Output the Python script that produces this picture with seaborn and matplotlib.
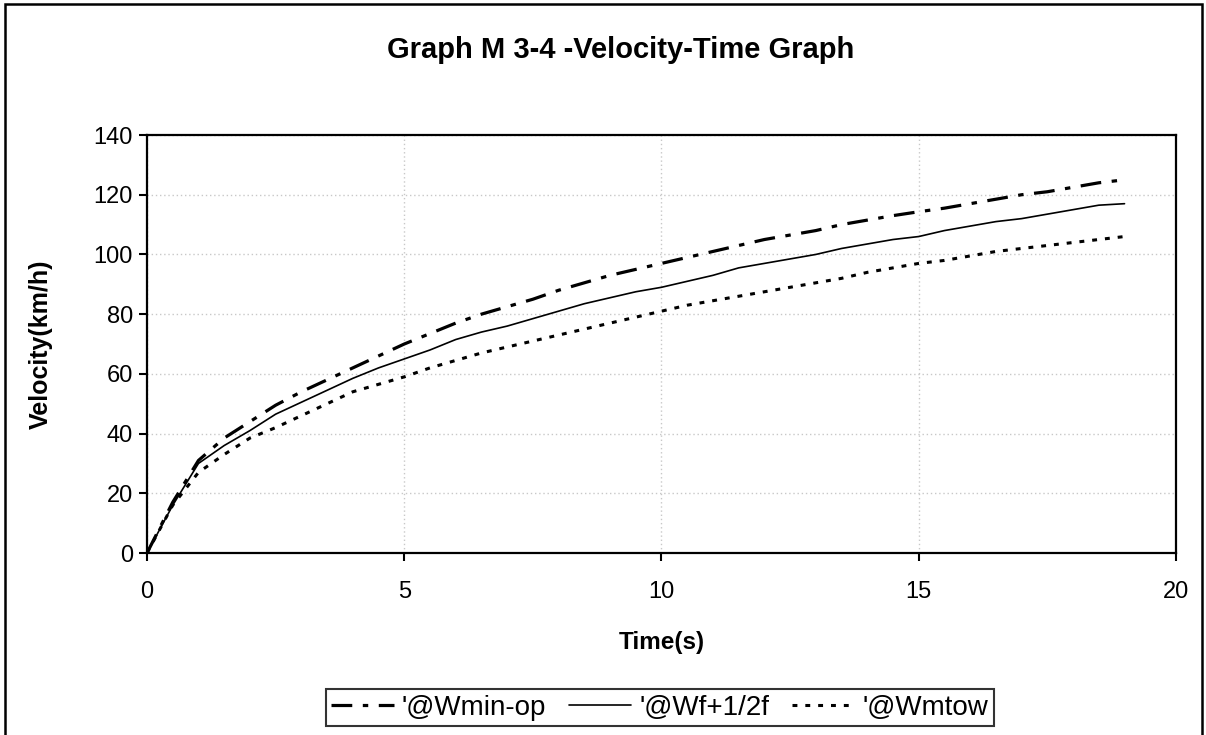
import numpy as np
import pandas as pd
import matplotlib
matplotlib.use("Agg")
import matplotlib.pyplot as plt
import seaborn as sns

# Sample times (s)
time_s = [0, 0.5, 1, 1.5, 2, 2.5, 3, 3.5, 4, 4.5, 5, 5.5, 6, 6.5, 7, 7.5, 8, 8.5, 9, 9.5,
          10, 10.5, 11, 11.5, 12, 12.5, 13, 13.5, 14, 14.5, 15, 15.5, 16, 16.5, 17, 17.5,
          18, 18.5, 19]

# Velocity (km/h) for each weight case
v_wmin_op = [0, 17, 31, 38.5, 44, 49.5, 54, 58, 62, 66, 70, 73.5, 77, 80, 82.5, 85, 88,
             90.5, 93, 95, 97, 99, 101, 103, 105, 106.5, 108, 110, 111.5, 113, 114.3,
             115.5, 117, 118.5, 120, 121, 122.5, 124, 125]
v_wf_half = [0, 16, 30, 36, 41, 46.5, 50.5, 54.5, 58.5, 62, 65, 68, 71.5, 74, 76, 78.5,
             81, 83.5, 85.5, 87.5, 89, 91, 93, 95.5, 97, 98.5, 100, 102, 103.5, 105, 106,
             108, 109.5, 111, 112, 113.5, 115, 116.5, 117]
v_wmtow = [0, 16, 27, 33, 38.5, 42, 46, 50, 54, 56.5, 59, 62, 64.5, 67, 69, 71, 73, 75,
           77, 79, 81, 83, 84.5, 86, 87.5, 89, 90.5, 92, 94, 95.5, 97, 98, 99.5, 101, 102,
           103, 104, 105, 106]

series_names = ["'@Wmin-op", "'@Wf+1/2f", "'@Wmtow"]
x_ticks = [0, 5, 10, 15, 20]
y_ticks = [0, 20, 40, 60, 80, 100, 120, 140]

sns.set_theme(style="white")
plt.rcParams["font.family"] = ["Liberation Sans", "DejaVu Sans"]
plt.rcParams.update({"text.color": "black", "axes.labelcolor": "black",
                     "xtick.color": "black", "ytick.color": "black"})

fig = plt.figure(figsize=(12.06, 7.35), dpi=100)
ax = fig.add_axes([0.1219, 0.2476, 0.8532, 0.5687])

styles = {
    series_names[0]: dict(lw=2.3, linestyle=(0, (6.5, 3.3, 1.7, 3.3))),
    series_names[1]: dict(lw=1.2, linestyle="-"),
    series_names[2]: dict(lw=2.2, linestyle=(0, (1.6, 2.6))),
}
values = [v_wmin_op, v_wf_half, v_wmtow]

for name, vals in zip(series_names, values):
    df = pd.DataFrame({"Time": time_s, "Velocity": vals})
    sns.lineplot(data=df, x="Time", y="Velocity", ax=ax, color="black",
                 label=name, **styles[name])

ax.set_xlim(0, 20)
ax.set_ylim(0, 140)
ax.set_xticks(x_ticks)
ax.set_yticks(y_ticks)
ax.tick_params(axis="both", labelsize=17, colors="black", direction="out",
               length=6, width=1.5, left=True, bottom=True)
ax.tick_params(axis="x", pad=14)
ax.tick_params(axis="y", pad=4)
ax.grid(True, color="#c8c8c8", linestyle=(0, (1, 2)), linewidth=1.0)
for sp in ax.spines.values():
    sp.set_visible(True)
    sp.set_color("black")
    sp.set_linewidth(1.6)

ax.set_xlabel("Time(s)", fontsize=17.5, fontweight="bold")
ax.set_ylabel("Velocity(km/h)", fontsize=18, fontweight="bold")
ax.xaxis.set_label_coords(0.5, -0.187)
ax.yaxis.set_label_coords(-0.092, 0.5)

fig.text(0.515, 0.932, "Graph M 3-4 -Velocity-Time Graph", ha="center", va="center",
         fontsize=21, fontweight="bold")

leg = ax.legend(loc="center", bbox_to_anchor=(0.547, 0.0374),
                bbox_transform=fig.transFigure, ncol=3, fontsize=20, frameon=True,
                fancybox=False, edgecolor="black", handlelength=2.25,
                handletextpad=0.3, columnspacing=0.8, borderpad=0.2)
leg.get_frame().set_linewidth(1.5)

# Outer chart border
fig.patches.append(plt.Rectangle((0.004, -0.05), 0.993, 1.045, transform=fig.transFigure,
                                 fill=False, edgecolor="black", linewidth=1.8))

fig.savefig("out.png", dpi=100, facecolor="white")
